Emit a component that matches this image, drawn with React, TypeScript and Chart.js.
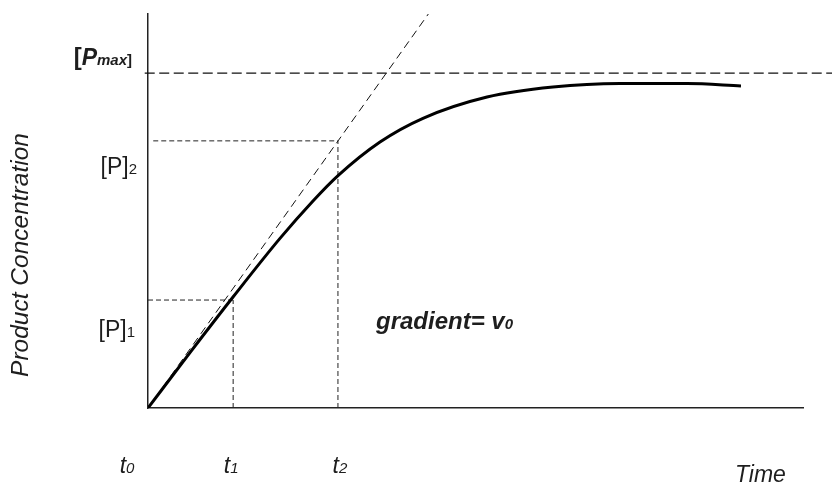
import React, { useEffect, useRef } from "react";
import { Chart, registerables } from "chart.js";

Chart.register(...registerables);

// Progress curve: product concentration against time
const timePoints = [0, 6.41, 12.98, 20.15, 25.19, 29.01, 35.42, 41.98, 51.76, 61.83, 72.06, 82.29, 90.53];
const productValues = [0, 14.06, 28.17, 43.05, 52.54, 58.98, 67.51, 73.53, 78.93, 81.47, 82.36, 82.36, 81.73];

// Marked times and concentrations
const t1 = 13;
const t2 = 29;
const p1 = 27.4;
const p2 = 67.8;
const pMax = 85;

// Initial-rate tangent (slope = v0) drawn from the origin
const tangentTimes = [0, 42.8];
const tangentValues = [0, 100];

// Time tick labels (t with subscript)
const tickTimes = [0, t1, t2];
const tickSubscripts = ["0", "1", "2"];

const FONT = "'Liberation Sans', Arial, Helvetica, sans-serif";
const INK = "#1e1e1e";

type Run = { text: string; font: string };

function drawRuns(
  ctx: CanvasRenderingContext2D,
  runs: Run[],
  x: number,
  y: number,
  align: "left" | "right" | "center"
) {
  let total = 0;
  for (const r of runs) {
    ctx.font = r.font;
    total += ctx.measureText(r.text).width;
  }
  let cx = align === "left" ? x : align === "right" ? x - total : x - total / 2;
  ctx.textAlign = "left";
  ctx.textBaseline = "alphabetic";
  for (const r of runs) {
    ctx.font = r.font;
    ctx.fillText(r.text, cx, y);
    cx += ctx.measureText(r.text).width;
  }
}

const labelsPlugin = {
  id: "kineticsLabels",
  afterDraw(chart: any) {
    const ctx: CanvasRenderingContext2D = chart.ctx;
    const xs = chart.scales.x;
    const ys = chart.scales.y;
    const left = xs.getPixelForValue(0);
    const bottom = ys.getPixelForValue(0);
    ctx.save();
    ctx.fillStyle = INK;

    // [Pmax]
    drawRuns(
      ctx,
      [
        { text: "[", font: `bold 24px ${FONT}` },
        { text: "P", font: `italic bold 23px ${FONT}` },
        { text: "max", font: `italic bold 15px ${FONT}` },
        { text: "]", font: `bold 15px ${FONT}` },
      ],
      left - 16,
      ys.getPixelForValue(pMax) - 8,
      "right"
    );

    // [P]2 and [P]1
    drawRuns(
      ctx,
      [
        { text: "[P]", font: `23px ${FONT}` },
        { text: "2", font: `15px ${FONT}` },
      ],
      left - 11,
      ys.getPixelForValue(p2) + 33,
      "right"
    );
    drawRuns(
      ctx,
      [
        { text: "[P]", font: `23px ${FONT}` },
        { text: "1", font: `15px ${FONT}` },
      ],
      left - 13,
      ys.getPixelForValue(p1) + 37,
      "right"
    );

    // time ticks t0, t1, t2
    const tickOffsets = [-21, -2, 2];
    tickTimes.forEach((t, i) => {
      drawRuns(
        ctx,
        [
          { text: "t", font: `italic 23px ${FONT}` },
          { text: tickSubscripts[i], font: `italic 15px ${FONT}` },
        ],
        xs.getPixelForValue(t) + tickOffsets[i],
        bottom + 65,
        "center"
      );
    });

    // axis titles
    drawRuns(ctx, [{ text: "Time", font: `italic 23px ${FONT}` }], 735, bottom + 74, "left");

    ctx.save();
    ctx.translate(28, 255);
    ctx.rotate(-Math.PI / 2);
    ctx.font = `italic 24.5px ${FONT}`;
    ctx.textAlign = "center";
    ctx.textBaseline = "alphabetic";
    ctx.fillText("Product Concentration", 0, 0);
    ctx.restore();

    // slope annotation
    drawRuns(
      ctx,
      [
        { text: "gradient= v", font: `italic bold 24px ${FONT}` },
        { text: "0", font: `italic bold 15px ${FONT}` },
      ],
      376,
      329,
      "left"
    );

    ctx.restore();
  },
};

const guide = (data: { x: number; y: number }[], dash: number[], extra: any = {}) => ({
  data,
  borderColor: "#222",
  borderWidth: 1,
  borderDash: dash,
  pointRadius: 0,
  fill: false,
  tension: 0,
  ...extra,
});

export default function App() {
  const canvasRef = useRef<HTMLCanvasElement | null>(null);

  useEffect(() => {
    document.body.style.margin = "0";
    const canvas = canvasRef.current;
    if (!canvas) return;

    const curve = timePoints.map((t, i) => ({ x: t, y: productValues[i] }));
    const tangent = tangentTimes.map((t, i) => ({ x: t, y: tangentValues[i] }));

    const chart = new Chart(canvas, {
      type: "line",
      data: {
        datasets: [
          {
            data: curve,
            borderColor: "#000",
            borderWidth: 3,
            pointRadius: 0,
            fill: false,
            cubicInterpolationMode: "monotone",
          } as any,
          guide(tangent, [8, 5], { borderColor: "#111" }),
          guide(
            [
              { x: -0.5, y: pMax },
              { x: 105, y: pMax },
            ],
            [10, 4.5],
            { clip: false, borderColor: "#111", borderWidth: 1.2 }
          ),
          guide(
            [
              { x: 0.8, y: p2 },
              { x: t2, y: p2 },
            ],
            [5, 3]
          ),
          guide(
            [
              { x: t2, y: 0 },
              { x: t2, y: p2 },
            ],
            [5, 3]
          ),
          guide(
            [
              { x: 0, y: p1 },
              { x: t1, y: p1 },
            ],
            [5, 3]
          ),
          guide(
            [
              { x: t1, y: 0 },
              { x: t1, y: p1 },
            ],
            [5, 3]
          ),
        ],
      },
      options: {
        responsive: false,
        animation: false,
        events: [],
        layout: { padding: { left: 148, right: 29, top: 14, bottom: 76 } },
        plugins: {
          legend: { display: false },
          tooltip: { enabled: false },
        },
        scales: {
          x: {
            type: "linear",
            min: 0,
            max: 100,
            grid: { display: false, drawTicks: false },
            ticks: { display: false },
            border: { display: true, color: "#222", width: 1.5 },
            afterFit: (s: any) => {
              s.height = 0;
            },
          },
          y: {
            type: "linear",
            min: 0,
            max: 100,
            grid: { display: false, drawTicks: false },
            ticks: { display: false },
            border: { display: true, color: "#222", width: 1.5 },
            afterFit: (s: any) => {
              s.width = 0;
            },
          },
        },
      },
      plugins: [labelsPlugin],
    });

    return () => chart.destroy();
  }, []);

  return (
    <div style={{ position: "absolute", left: 0, top: 0, width: 832, height: 484 }}>
      <canvas ref={canvasRef} width={832} height={484} />
    </div>
  );
}
